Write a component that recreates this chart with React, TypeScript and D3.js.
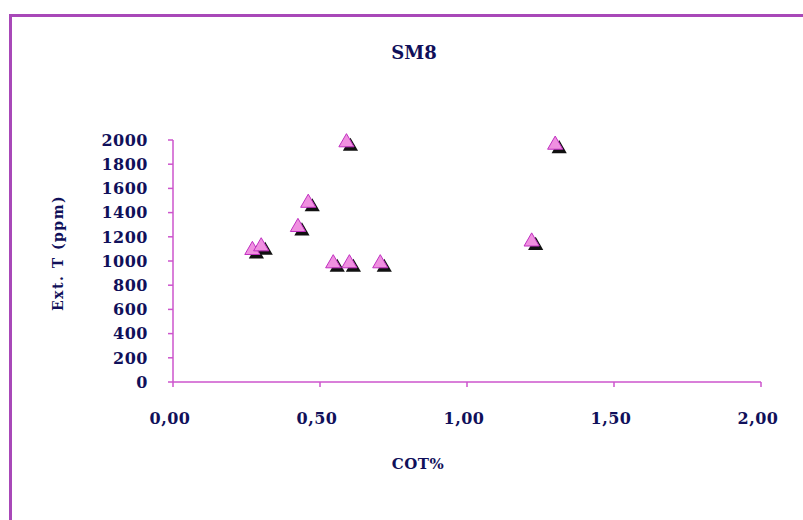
import React from "react";
import * as d3 from "d3";

const cot = [0.27, 0.30, 0.425, 0.46, 0.59, 0.545, 0.60, 0.705, 1.22, 1.30];
const extT = [1090, 1120, 1280, 1480, 1980, 980, 980, 980, 1160, 1960];
const xTicks = [0, 0.5, 1, 1.5, 2];
const yTicks = [0, 200, 400, 600, 800, 1000, 1200, 1400, 1600, 1800, 2000];

const W = 803, H = 520;
const navy = "#10105a";
const axisColor = "#cc55cc";
const font = "'DejaVu Serif', serif";

export default function App() {
  const x = d3.scaleLinear().domain([0, 2]).range([173, 761]);
  const y = d3.scaleLinear().domain([0, 2000]).range([382, 140]);
  const tri = d3.symbol().type(d3.symbolTriangle).size(100);
  const fmt = (v: number) => v.toFixed(2).replace(".", ",");
  return (
    <svg width={W} height={H} style={{ position: "absolute", left: 0, top: 0, background: "#fff" }}>
      <rect x={10.5} y={15.5} width={W + 20} height={H + 20} fill="#fff" stroke="#a848b8" strokeWidth={3} />
      <text x={414} y={59} textAnchor="middle" fontFamily={font} fontWeight="bold" fontSize={18} fill={navy}>SM8</text>
      {/* y axis */}
      <line x1={x(0)} x2={x(0)} y1={y(0)} y2={y(2000)} stroke={axisColor} strokeWidth={1.5} />
      {yTicks.map((t) => (
        <g key={t}>
          <line x1={x(0) - 5} x2={x(0)} y1={y(t)} y2={y(t)} stroke={axisColor} strokeWidth={1.5} />
          <text x={148} y={y(t)} dy="0.36em" textAnchor="end" fontFamily={font} fontWeight="bold" fontSize={16} letterSpacing={0.5} fill={navy}>{t}</text>
        </g>
      ))}
      {/* x axis */}
      <line x1={x(0)} x2={x(2)} y1={y(0)} y2={y(0)} stroke={axisColor} strokeWidth={1.5} />
      {xTicks.map((t) => (
        <g key={t}>
          <line x1={x(t)} x2={x(t)} y1={y(0)} y2={y(0) + 5} stroke={axisColor} strokeWidth={1.5} />
          <text x={x(t) - 3} y={418} dy="0.36em" textAnchor="middle" fontFamily={font} fontWeight="bold" fontSize={16} letterSpacing={0.5} fill={navy}>{fmt(t)}</text>
        </g>
      ))}
      <text x={418} y={469} textAnchor="middle" fontFamily={font} fontWeight="bold" fontSize={15} letterSpacing={0.5} fill={navy}>COT%</text>
      <text transform={`translate(63,253) rotate(-90)`} textAnchor="middle" fontFamily={font} fontWeight="bold" fontSize={14} letterSpacing={1.5} fill={navy}>Ext. T (ppm)</text>
      {/* shadows */}
      {cot.map((c, i) => (
        <path key={"s" + i} d={tri() as string} transform={`translate(${x(c) + 4},${y(extT[i]) + 4})`} fill="#111" />
      ))}
      {cot.map((c, i) => (
        <path key={"p" + i} d={tri() as string} transform={`translate(${x(c)},${y(extT[i])})`} fill="#f090e0" stroke="#c030c0" strokeWidth={1} />
      ))}
    </svg>
  );
}
